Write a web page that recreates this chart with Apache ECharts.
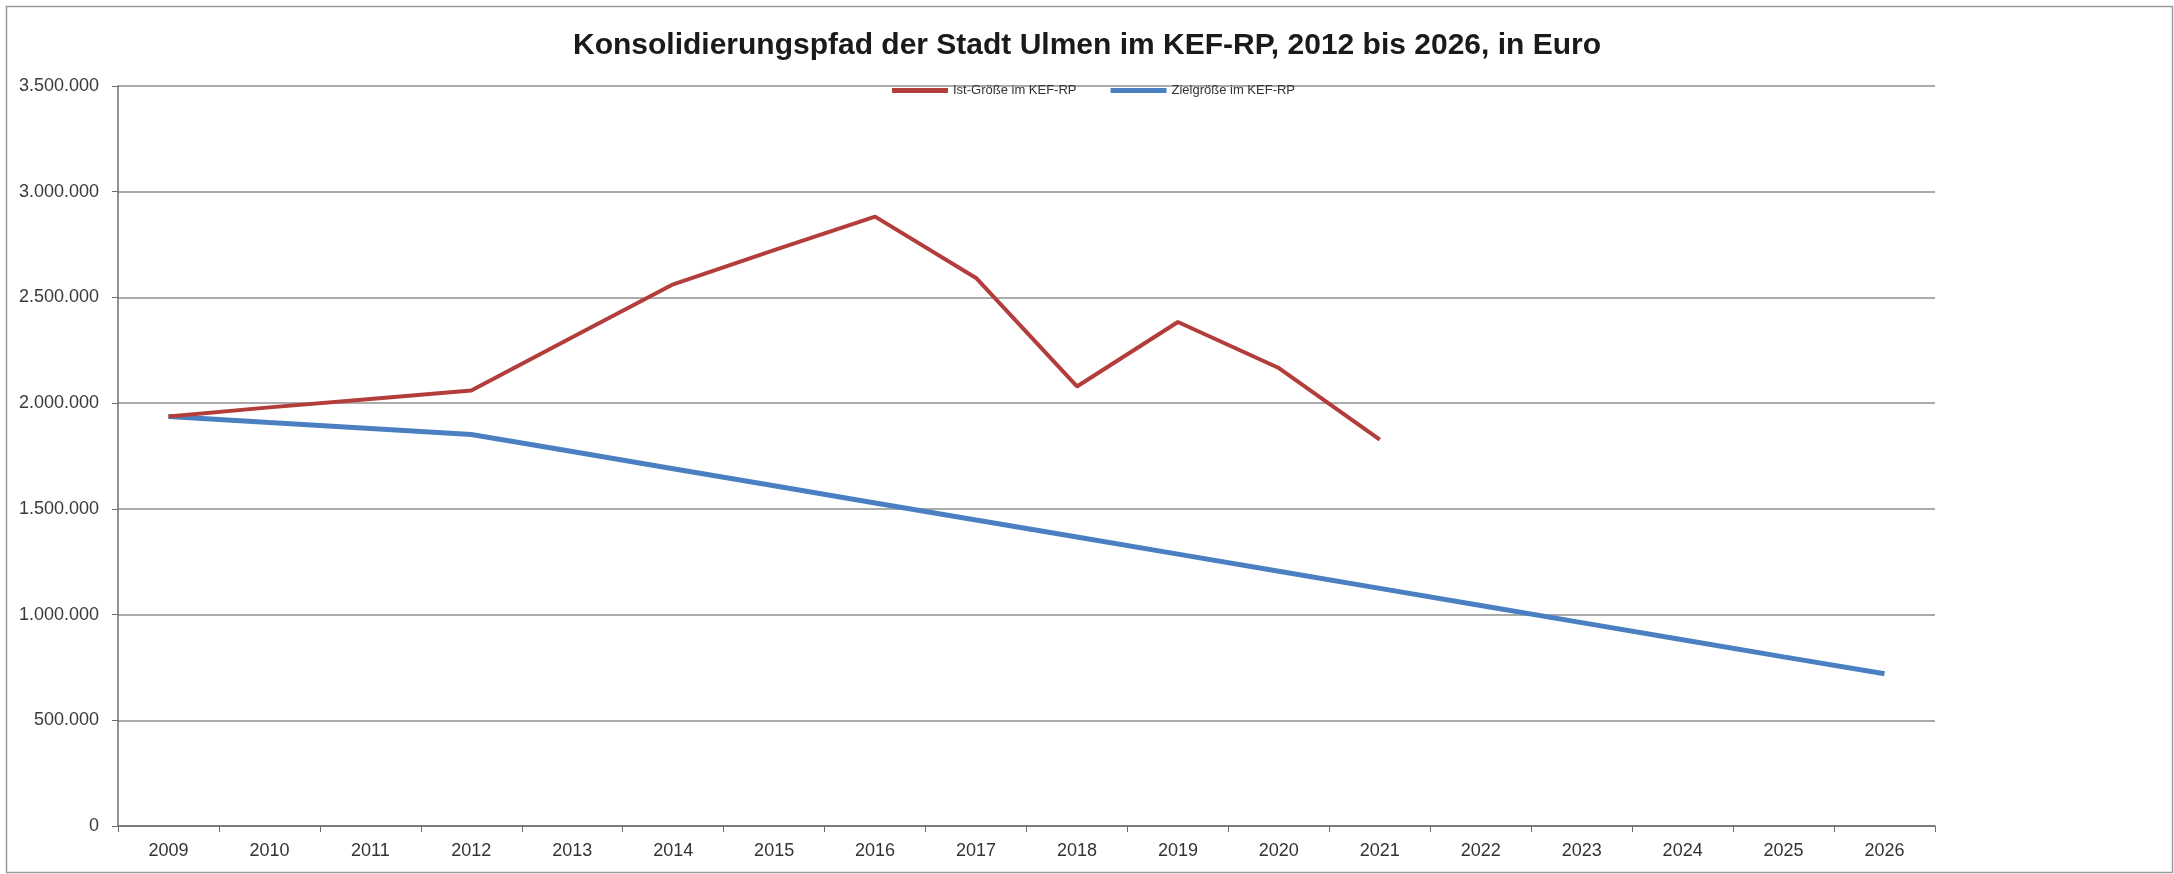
<!DOCTYPE html>
<html>
<head>
<meta charset="utf-8">
<script src="https://cdn.jsdelivr.net/npm/echarts@6/dist/echarts.min.js"></script>
<style>
html,body{margin:0;padding:0;background:#fff;}
#chart{width:2174px;height:874px;}
</style>
</head>
<body>
<div id="chart"></div>
<script>
const titleText = 'Konsolidierungspfad der Stadt Ulmen im KEF-RP, 2012 bis 2026, in Euro';
const years = ['2009','2010','2011','2012','2013','2014','2015','2016','2017','2018','2019','2020','2021','2022','2023','2024','2025','2026'];
const istName = 'Ist-Größe im KEF-RP';
const zielName = 'Zielgröße im KEF-RP';
const istValues = [1937000, 1980000, 2020000, 2060000, 2312000, 2562000, 2724000, 2882000, 2592000, 2079000, 2384000, 2166000, 1827000, null, null, null, null, null];
const zielValues = [1937000, 1908000, 1880000, 1852000, 1771000, 1690000, 1609000, 1528000, 1447000, 1367000, 1286000, 1205000, 1124000, 1043000, 962000, 881000, 800000, 720000];
const yTicks = [0, 500000, 1000000, 1500000, 2000000, 2500000, 3000000, 3500000];

function fmt(v){
  return String(v).replace(/\B(?=(\d{3})+(?!\d))/g, '.');
}

const chart = echarts.init(document.getElementById('chart'), null, {renderer:'canvas'});
chart.setOption({
  backgroundColor:'#fff',
  animation:false,
  graphic:[{
    type:'rect', left:4, top:4, shape:{width:2166, height:866},
    style:{fill:'none', stroke:'#9a9a9a', lineWidth:1.5}, silent:true
  }],
  title:{
    text:titleText, left:'center', top:26,
    textStyle:{fontFamily:'Liberation Sans, Arial, sans-serif', fontWeight:'bold', fontSize:30, color:'#1a1a1a'}
  },
  legend:{
    left:887, top:79,
    itemWidth:56, itemHeight:5, itemGap:34,
    icon:'rect',
    textStyle:{fontFamily:'Liberation Sans, Arial, sans-serif', fontSize:13, color:'#333'},
    data:[istName, zielName]
  },
  grid:{left:118, right:239, top:86, bottom:48, containLabel:false},
  xAxis:{
    type:'category', data:years, boundaryGap:true,
    axisLine:{lineStyle:{color:'#6e6e6e', width:1.5}},
    axisTick:{show:true, length:6, alignWithLabel:false, lineStyle:{color:'#6e6e6e'}},
    axisLabel:{margin:16, fontFamily:'Liberation Sans, Arial, sans-serif', fontSize:18, color:'#333'}
  },
  yAxis:{
    type:'value', min:yTicks[0], max:yTicks[yTicks.length-1], interval:500000,
    axisLine:{show:true, lineStyle:{color:'#6e6e6e', width:1.5}},
    axisTick:{show:true, length:6, lineStyle:{color:'#6e6e6e'}},
    splitLine:{show:true, lineStyle:{color:'#8f8f8f', width:1.5}},
    axisLabel:{margin:19, fontFamily:'Liberation Sans, Arial, sans-serif', fontSize:18, color:'#3a3a3a', formatter:fmt}
  },
  series:[
    {name:istName, type:'line', data:istValues, showSymbol:false, symbol:'none',
     lineStyle:{color:'#B23D3B', width:4}, itemStyle:{color:'#B23D3B'}, z:3},
    {name:zielName, type:'line', data:zielValues, showSymbol:false, symbol:'none',
     lineStyle:{color:'#4A80C2', width:5}, itemStyle:{color:'#4A80C2'}, z:2}
  ]
});
</script>
</body>
</html>
